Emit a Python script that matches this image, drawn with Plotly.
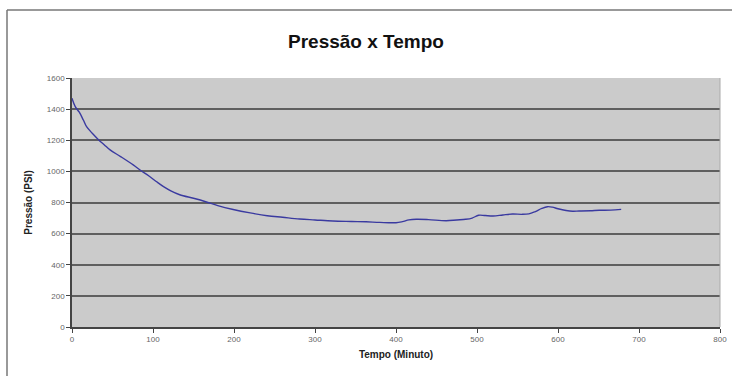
import plotly.graph_objects as go

tempo = [0, 4, 9, 14, 18, 25, 33, 40, 47, 60, 76, 84, 95, 104, 113, 122, 133, 150, 165, 180, 199, 220,
         241, 260, 281, 300, 322, 345, 363, 380, 400, 408, 416, 425, 440, 462, 475, 486, 494, 502,
         510, 520, 532, 544, 555, 564, 572, 580, 587, 593, 600, 610, 618, 626, 640, 651, 665, 678]
pressao = [1470, 1416, 1380, 1330, 1287, 1245, 1202, 1170, 1138, 1095, 1040, 1009, 970, 935, 902, 875,
           850, 827, 805, 780, 755, 733, 715, 705, 694, 688, 681, 678, 676, 672, 670, 677, 688, 692,
           690, 683, 688, 692, 700, 718, 716, 713, 720, 726, 724, 727, 742, 762, 773, 770, 760, 749,
           744, 745, 747, 750, 751, 756]

x_ticks = [0, 100, 200, 300, 400, 500, 600, 700, 800]
y_ticks = [0, 200, 400, 600, 800, 1000, 1200, 1400, 1600]

fig = go.Figure()
fig.add_trace(go.Scatter(x=tempo, y=pressao, mode="lines", line_shape="spline",
                         line=dict(color="#3a3aa0", width=1.4), showlegend=False))

W, H = 732, 376
ml, mr, mt, mb = 72, 12, 78, 49
pw, ph = W - ml - mr, H - mt - mb

def px(xp):
    return (xp - ml) / pw

def py(yp):
    return 1 - (yp - mt) / ph

shapes = [
    dict(type="line", xref="paper", yref="paper", x0=px(7), x1=px(745), y0=py(10), y1=py(10),
         line=dict(color="#777777", width=1.5)),
    dict(type="line", xref="paper", yref="paper", x0=px(7), x1=px(7), y0=py(10), y1=py(380),
         line=dict(color="#777777", width=1.5)),
    dict(type="line", xref="paper", yref="paper", x0=1, x1=1, y0=0, y1=1,
         line=dict(color="#aaaaaa", width=1)),
]

fig.update_layout(
    width=W, height=H,
    margin=dict(l=ml, r=mr, t=mt, b=mb),
    paper_bgcolor="white",
    plot_bgcolor="#cbcbcb",
    font=dict(family="Liberation Sans, Arial, sans-serif", color="#555555"),
    title=dict(text="<b>Pressão x Tempo</b>", x=0.5, xanchor="center", y=1 - 41 / H, yanchor="middle",
               font=dict(size=19, color="#111111")),
    shapes=shapes,
    xaxis=dict(range=[0, 800], tickvals=x_ticks, ticks="outside", ticklen=4, tickcolor="#444444",
               automargin=False,
               showgrid=False, zeroline=False, showline=True, linecolor="#444444", linewidth=1.5,
               tickfont=dict(size=8, color="#666666"),
               title=dict(text="<b>Tempo (Minuto)</b>", font=dict(size=10, color="#222222"), standoff=8)),
    yaxis=dict(range=[0, 1600], tickvals=y_ticks, ticks="outside", ticklen=4, tickcolor="#444444",
               automargin=False,
               showgrid=True, gridcolor="#5f5f5f", gridwidth=1.5, zeroline=False,
               showline=True, linecolor="#444444", linewidth=1.5,
               tickfont=dict(size=8, color="#666666"),
               title=dict(text="<b>Pressão (PSI)</b>", font=dict(size=10, color="#222222"), standoff=12)),
)

fig.write_html("out.html")
